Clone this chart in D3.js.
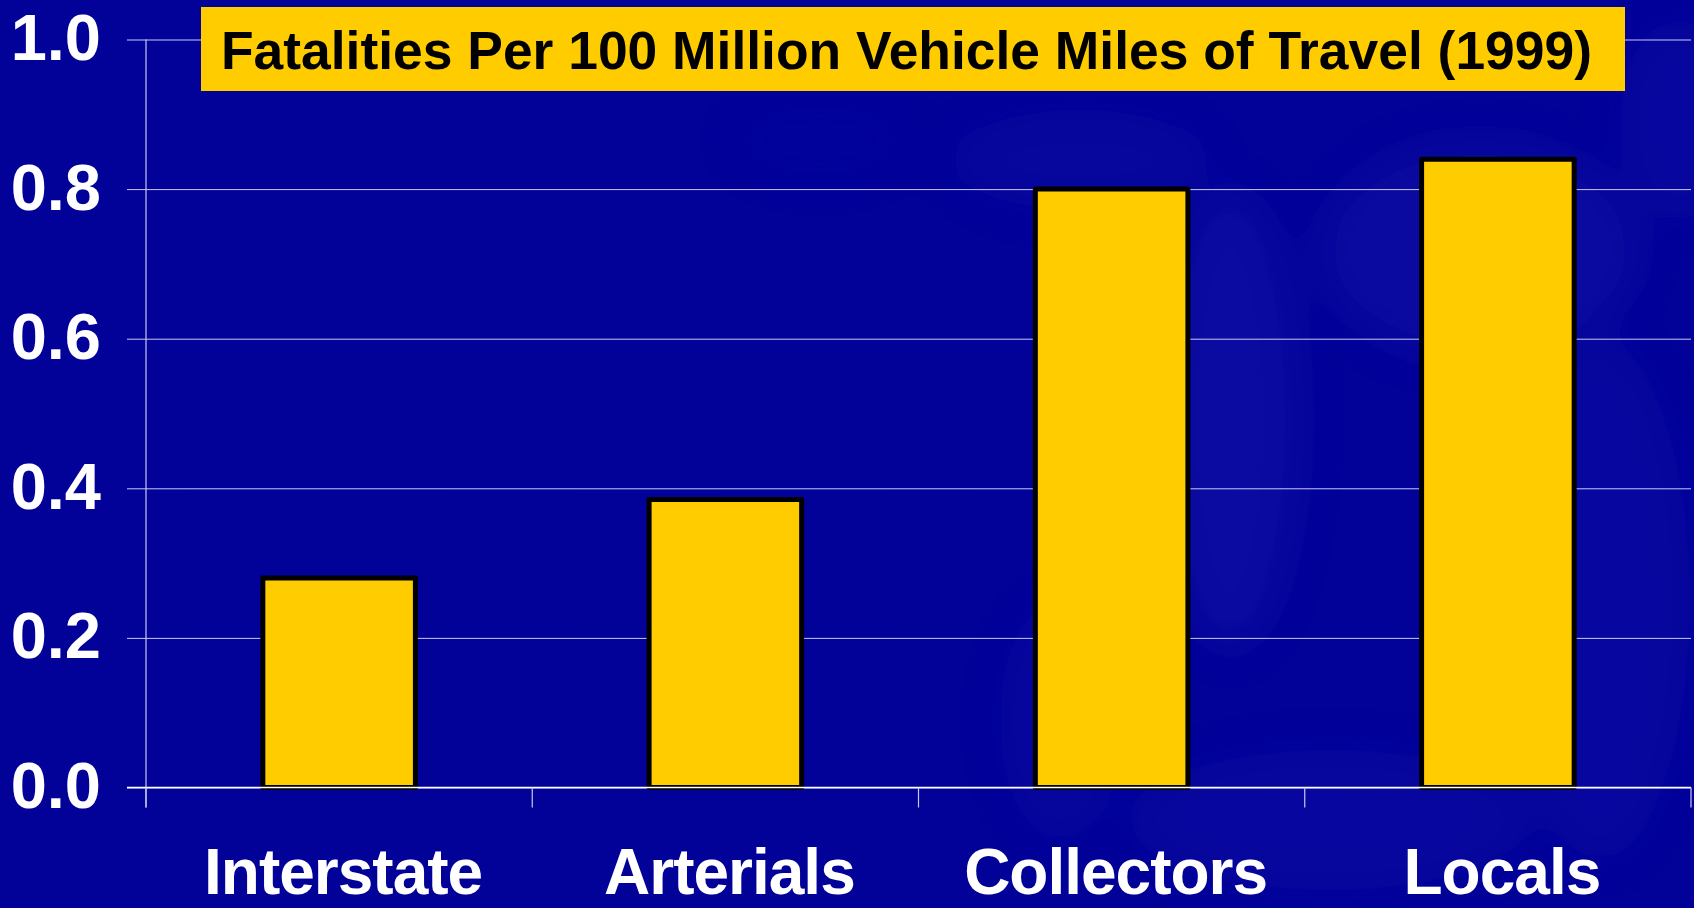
<!DOCTYPE html>
<html>
<head>
<meta charset="utf-8">
<script src="https://cdn.jsdelivr.net/npm/d3@7/dist/d3.min.js"></script>
<style>
  html, body { margin: 0; padding: 0; background: #020299; }
  svg { display: block; }
</style>
</head>
<body>
<svg id="chart" width="1694" height="908"></svg>
<script>
// Fatality rates by functional road class, 1999
const categories = ["Interstate", "Arterials", "Collectors", "Locals"];
const values = [0.28, 0.385, 0.80, 0.84];
const yTicks = [0.0, 0.2, 0.4, 0.6, 0.8, 1.0];
const titleText = "Fatalities Per 100 Million Vehicle Miles of Travel (1999)";

const W = 1694, H = 908;
const margin = { left: 146, right: 3, top: 39.5, bottom: 120.5 };
const plotRight = W - margin.right;
const plotBottom = H - margin.bottom;

const svg = d3.select("#chart");

// Backdrop: deep blue with a faint photographic wash on the right
const defs = svg.append("defs");
defs.append("filter").attr("id", "soft")
  .attr("x", "-50%").attr("y", "-50%").attr("width", "200%").attr("height", "200%")
  .append("feGaussianBlur").attr("stdDeviation", 22);

svg.append("rect").attr("width", W).attr("height", H).attr("fill", "#020299");

const wash = svg.append("g").attr("filter", "url(#soft)");
const blobs = [
  [1230, 420, 70, 230, 0.15], [1480, 250, 160, 110, 0.13], [1600, 600, 90, 260, 0.12],
  [1080, 160, 130, 50, 0.10], [1330, 820, 200, 70, 0.12], [1060, 720, 60, 120, 0.09],
  [1680, 120, 60, 100, 0.12], [820, 140, 90, 40, 0.06]
];
wash.selectAll("ellipse").data(blobs).join("ellipse")
  .attr("cx", d => d[0]).attr("cy", d => d[1])
  .attr("rx", d => d[2]).attr("ry", d => d[3])
  .attr("fill", "#3a3ad0").attr("opacity", d => d[4]);

// Scales
const x = d3.scaleBand()
  .domain(categories)
  .range([margin.left, plotRight])
  .paddingInner(0.605)
  .paddingOuter(0.3025);

const y = d3.scaleLinear().domain([0, 1]).range([plotBottom, margin.top]);

const gridColor = "#c8c8f4";

// Horizontal gridlines with short ticks left of the axis
const yAxis = d3.axisLeft(y)
  .tickValues(yTicks)
  .tickSize(-(plotRight - margin.left))
  .tickFormat("");
const gy = svg.append("g").attr("transform", `translate(${margin.left},0)`).call(yAxis);
gy.select(".domain").remove();
gy.selectAll(".tick line").attr("stroke", gridColor).attr("stroke-width", 1)
  .attr("x1", -19);

// Vertical axis line
svg.append("line")
  .attr("x1", margin.left).attr("x2", margin.left)
  .attr("y1", margin.top).attr("y2", plotBottom + 20)
  .attr("stroke", gridColor).attr("stroke-width", 1.2);

// Y tick labels
svg.append("g").selectAll("text").data(yTicks).join("text")
  .attr("x", 101)
  .attr("y", d => y(d) + 20.5)
  .attr("text-anchor", "end")
  .attr("fill", "#ffffff")
  .attr("font-family", "'Liberation Sans', Arial, sans-serif")
  .attr("font-weight", "bold")
  .attr("font-size", 65)
  .text(d => d3.format(".1f")(d));

// Bars
svg.append("g").selectAll("rect").data(values).join("rect")
  .attr("x", (d, i) => x(categories[i]))
  .attr("y", d => y(d))
  .attr("width", x.bandwidth())
  .attr("height", d => y(0) - y(d))
  .attr("fill", "#ffcc00")
  .attr("stroke", "#000000")
  .attr("stroke-width", 5)
  .attr("stroke-linejoin", "round");

// Category axis: baseline and boundary ticks
const step = x.step();
const boundaries = d3.range(categories.length + 1).map(i => margin.left + i * step);
svg.append("line")
  .attr("x1", margin.left - 19).attr("x2", plotRight)
  .attr("y1", y(0)).attr("y2", y(0))
  .attr("stroke", "#ffffff").attr("stroke-width", 1.5);
svg.append("g").selectAll("line").data(boundaries).join("line")
  .attr("x1", d => d).attr("x2", d => d)
  .attr("y1", y(0)).attr("y2", y(0) + 20)
  .attr("stroke", gridColor).attr("stroke-width", 1.2);

// Category labels
svg.append("g").selectAll("text").data(categories).join("text")
  .attr("x", d => x(d) + x.bandwidth() / 2 + 4)
  .attr("y", 894)
  .attr("text-anchor", "middle")
  .attr("fill", "#ffffff")
  .attr("font-family", "'Liberation Sans', Arial, sans-serif")
  .attr("font-weight", "bold")
  .attr("font-size", 64)
  .attr("letter-spacing", -1)
  .text(d => d);

// Title banner
svg.append("rect")
  .attr("x", 201).attr("y", 7).attr("width", 1424).attr("height", 84)
  .attr("fill", "#ffcc00");
svg.append("text")
  .attr("x", 221).attr("y", 69)
  .attr("fill", "#000000")
  .attr("font-family", "'Liberation Sans', Arial, sans-serif")
  .attr("font-weight", "bold")
  .attr("font-size", 53.4)
  .text(titleText);
</script>
</body>
</html>
